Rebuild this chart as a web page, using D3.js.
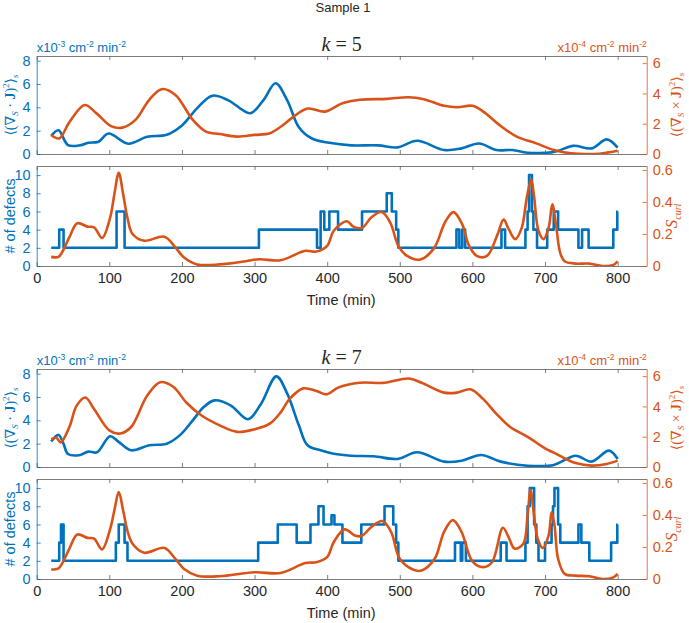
<!DOCTYPE html>
<html>
<head>
<meta charset="utf-8">
<script src="https://cdn.jsdelivr.net/npm/d3@7"></script>
<style>
  body { margin: 0; background: #fff; }
  text { font-family: "Liberation Sans Narrow", "Liberation Sans", Arial, sans-serif; }
  .math { font-family: "Liberation Serif", "DejaVu Serif", serif; }
</style>
</head>
<body>
<div id="chart"></div>
<script>
var timeTicks = [0, 100, 200, 300, 400, 500, 600, 700, 800];

// k = 5
var k5_div = [[20,1.55],[30,2.04],[43,0.77],[60,0.75],[71,0.96],[85,1.05],[99,1.76],[126,0.88],[152,1.47],[179,1.65],[200,2.45],[222,4.0],[242,5.0],[264,4.6],[294,3.5],[312,4.6],[329,6.07],[345,4.6],[361,2.3],[379,1.33],[403,0.96],[433,0.74],[470,0.74],[497,0.57],[524,1.13],[561,0.34],[585,0.48],[609,0.9],[633,0.34],[655,0.34],[676,0.11],[712,0.17],[739,0.7],[764,0.48],[785,1.25],[800,0.54]];
var k5_curl = [[20,1.25],[31,1.03],[45,2.1],[66,3.23],[82,2.7],[103,1.82],[118,1.74],[136,2.25],[155,3.58],[172,4.28],[191,3.9],[215,2.25],[233,1.48],[252,1.32],[276,1.15],[300,1.26],[321,1.37],[336,1.8],[352,2.4],[373,3.0],[397,2.8],[421,3.35],[445,3.58],[482,3.64],[512,3.75],[533,3.62],[561,3.18],[579,3.09],[600,3.18],[615,2.8],[639,1.85],[661,1.15],[688,0.7],[712,0.26],[736,0.04],[767,0.0],[785,0.09],[800,0.22]];
var k5_defects = [[20,2],[31,4],[37,2],[110,6],[121,2],[306,4],[386,2],[391,6],[396,4],[403,6],[415,4],[448,6],[482,8],[489,6],[495,4],[498,2],[578,4],[582,2],[586,4],[590,2],[640,4],[645,2],[673,4],[676,6],[678,10],[682,6],[684,4],[689,2],[703,4],[712,6],[718,4],[746,2],[751,4],[760,2],[794,4],[799.5,6],[800,6]];
var k5_scurl = [[20,0.057],[30,0.057],[36,0.095],[45,0.18],[56,0.267],[70,0.246],[79,0.242],[90,0.175],[101,0.3],[107,0.45],[113,0.583],[119,0.45],[125,0.3],[132,0.2],[148,0.158],[176,0.183],[191,0.116],[203,0.053],[221,0.01],[252,0.01],[288,0.03],[306,0.042],[336,0.036],[370,0.095],[385,0.09],[400,0.126],[409,0.22],[427,0.28],[436,0.246],[448,0.238],[461,0.305],[475,0.337],[487,0.27],[498,0.126],[510,0.063],[528,0.04],[547,0.11],[563,0.28],[574,0.337],[586,0.26],[595,0.13],[606,0.063],[620,0.063],[634,0.19],[643,0.29],[650,0.23],[659,0.168],[668,0.24],[675,0.43],[681,0.54],[685,0.43],[691,0.22],[698,0.168],[705,0.24],[710,0.385],[715,0.26],[721,0.08],[727,0.03],[742,0.015],[761,0.015],[779,0.0],[794,0.006],[800,0.03]];

// k = 7
var k7_div = [[20,2.18],[30,2.75],[37,1.98],[43,1.12],[60,1.03],[71,1.32],[83,1.26],[101,2.64],[112,2.2],[130,1.43],[155,1.86],[179,2.0],[197,2.71],[215,4.0],[230,5.14],[245,5.71],[267,5.29],[291,4.09],[309,5.43],[330,7.77],[345,6.29],[361,3.57],[373,1.86],[391,1.43],[409,1.14],[433,0.97],[464,0.92],[497,0.69],[524,1.26],[561,0.46],[585,0.54],[612,1.03],[639,0.46],[676,0.11],[712,0.17],[742,0.97],[764,0.46],[788,1.4],[800,0.69]];
var k7_curl = [[20,1.84],[27,1.93],[33,1.62],[45,2.64],[55,4.05],[67,4.59],[79,3.83],[100,2.42],[115,2.21],[130,2.64],[152,4.7],[170,5.6],[188,5.3],[206,4.26],[227,3.4],[252,2.75],[276,2.32],[300,2.49],[321,2.86],[336,3.61],[348,4.48],[367,5.19],[385,5.02],[400,4.8],[415,5.24],[445,5.56],[479,5.56],[512,5.84],[530,5.56],[561,4.91],[579,4.91],[597,5.13],[615,4.48],[633,3.51],[652,2.64],[676,1.99],[700,1.23],[712,0.95],[730,0.5],[742,0.26],[764,0.09],[785,0.2],[800,0.42]];
var k7_defects = [[20,2],[31,4],[33.5,6],[37,2],[109,4],[113,6],[121,4],[125,2],[305,4],[332,6],[358,4],[377,6],[388,8],[395,6],[406,7],[410,6],[421,4],[447,6],[479,8],[491,6],[495,4],[498,2],[576,4],[584,2],[586,4],[591,2],[639,4],[647,2],[673,4],[676,8],[679,10],[685,6],[688,4],[691,2],[700,4],[709,6],[711,8],[713,10],[718,6],[721,4],[746,6],[750,4],[761,2],[791,4],[799.5,6],[800,6]];
var k7_scurl = [[20,0.059],[30,0.067],[36,0.105],[45,0.19],[56,0.278],[70,0.257],[79,0.253],[90,0.185],[101,0.31],[107,0.43],[113,0.543],[119,0.43],[125,0.3],[132,0.22],[148,0.164],[176,0.194],[191,0.126],[203,0.063],[221,0.021],[252,0.017],[300,0.042],[336,0.038],[370,0.1],[385,0.105],[400,0.137],[409,0.23],[424,0.31],[439,0.27],[448,0.27],[461,0.326],[476,0.362],[488,0.295],[500,0.126],[518,0.059],[530,0.053],[548,0.126],[561,0.295],[573,0.368],[585,0.295],[600,0.11],[615,0.074],[627,0.105],[642,0.32],[650,0.26],[658,0.19],[670,0.22],[676,0.4],[680,0.558],[684,0.43],[690,0.25],[697,0.194],[705,0.274],[709,0.417],[713,0.337],[718,0.126],[727,0.032],[742,0.021],[761,0.017],[779,0.0],[794,0.01],[800,0.032]];

var divTicks = [0, 2, 4, 6, 8];
var curlTicks = [0, 2, 4, 6];
var defectTicks = [0, 2, 4, 6, 8, 10];
var scurlTicks = [0, 0.2, 0.4, 0.6];

// ---- drawing ----
var blue = "#0072BD", orange = "#D95319", grey = "#262626";
var width = 689, height = 623;
var left = 36.7, right = 646.7;

var svg = d3.select("#chart").append("svg")
    .attr("width", width)
    .attr("height", height);

var x = d3.scaleLinear().domain([0, 840]).range([left, right]);

svg.append("text")
  .attr("x", 343).attr("y", 12)
  .attr("text-anchor", "middle")
  .attr("fill", grey)
  .style("font-size", "13px")
  .text("Sample 1");

var clipId = 0;

// box with inward ticks on all four sides
function frame(y0, y1, yl, yr, lTicks, rTicks, rFmt, showX) {
  var g = svg.append("g");

  g.append("g")
    .attr("transform", "translate(0," + y0 + ")")
    .call(d3.axisTop(x).tickValues(timeTicks).tickSizeInner(-4).tickSizeOuter(0).tickFormat(""))
    .call(function(a) { a.selectAll("path,line").attr("stroke", "#5a5a5a").attr("stroke-width", 0.8); });

  var bx = g.append("g")
    .attr("transform", "translate(0," + y1 + ")")
    .call(d3.axisBottom(x).tickValues(timeTicks).tickSizeInner(-4).tickSizeOuter(0).tickPadding(7)
      .tickFormat(showX ? d3.format("d") : ""));
  bx.selectAll("path,line").attr("stroke", "#5a5a5a").attr("stroke-width", 0.8);
  bx.selectAll("text").attr("fill", grey).style("font-size", "14.5px").attr("font-family", null);

  var la = g.append("g")
    .attr("transform", "translate(" + left + ",0)")
    .call(d3.axisLeft(yl).tickValues(lTicks).tickSizeInner(-4).tickSizeOuter(0).tickPadding(6));
  la.selectAll("path,line").attr("stroke", blue).attr("stroke-width", 0.8);
  la.selectAll("text").attr("fill", blue).style("font-size", "14.5px").attr("font-family", null);

  var ra = g.append("g")
    .attr("transform", "translate(" + right + ",0)")
    .call(d3.axisRight(yr).tickValues(rTicks).tickSizeInner(-4).tickSizeOuter(0).tickPadding(6).tickFormat(rFmt));
  ra.selectAll("path,line").attr("stroke", orange).attr("stroke-width", 0.8);
  ra.selectAll("text").attr("fill", orange).style("font-size", "14.5px").attr("font-family", null);

  clipId += 1;
  svg.append("clipPath").attr("id", "clip" + clipId)
    .append("rect").attr("x", left).attr("y", y0).attr("width", right - left).attr("height", y1 - y0);
  return svg.append("g").attr("clip-path", "url(#clip" + clipId + ")");
}

function plotLine(g, data, y, color, curve) {
  g.append("path")
    .datum(data)
    .attr("fill", "none")
    .attr("stroke", color)
    .attr("stroke-width", 2.6)
    .attr("stroke-linejoin", "round")
    .attr("d", d3.line().x(function(d) { return x(d[0]); }).y(function(d) { return y(d[1]); }).curve(curve));
}

// <(grad_S op J)^2>_s label, rotated
function fluxLabel(px, py, op, color) {
  var t = svg.append("text").attr("class", "math")
    .attr("transform", "translate(" + px + "," + py + ") rotate(-90)")
    .attr("text-anchor", "middle")
    .attr("fill", color)
    .style("font-size", "14px");
  t.append("tspan").text("\u27E8(\u2207");
  t.append("tspan").attr("dy", 3).style("font-size", "9px").style("font-style", "italic").text("S");
  t.append("tspan").attr("dy", -3).text(" " + op + " ");
  t.append("tspan").style("font-weight", "bold").text("J");
  t.append("tspan").text(")");
  t.append("tspan").attr("dy", -6).style("font-size", "9px").text("2");
  t.append("tspan").attr("dy", 6).text("\u27E9");
  t.append("tspan").attr("dy", 3).style("font-size", "9px").style("font-style", "italic").text("s");
}

function unitLabel(px, py, exp, color, anchor) {
  var t = svg.append("text")
    .attr("x", px).attr("y", py)
    .attr("text-anchor", anchor)
    .attr("fill", color)
    .style("font-size", "13px");
  t.append("tspan").text("x10");
  t.append("tspan").attr("dy", -5).style("font-size", "8.5px").text(exp);
  t.append("tspan").attr("dy", 5).text(" cm");
  t.append("tspan").attr("dy", -5).style("font-size", "8.5px").text("-2");
  t.append("tspan").attr("dy", 5).text(" min");
  t.append("tspan").attr("dy", -5).style("font-size", "8.5px").text("-2");
}

function drawPair(top, k, div, curl, defects, scurl) {
  var aTop = top, aBot = top + 98, bTop = top + 110, bBot = top + 210;

  var yDiv = d3.scaleLinear().domain([0, 8.4]).range([aBot, aTop]);
  var yCurl = d3.scaleLinear().domain([0, 6.47]).range([aBot, aTop]);
  var yDef = d3.scaleLinear().domain([0, 11]).range([bBot, bTop]);
  var ySc = d3.scaleLinear().domain([0, 0.625]).range([bBot, bTop]);

  var smooth = d3.curveCatmullRom.alpha(0.5);

  // upper panel
  var gA = frame(aTop, aBot, yDiv, yCurl, divTicks, curlTicks, d3.format("d"), false);
  plotLine(gA, div, yDiv, blue, smooth);
  plotLine(gA, curl, yCurl, orange, smooth);

  // lower panel
  var gB = frame(bTop, bBot, yDef, ySc, defectTicks, scurlTicks,
    function(d) { return d === 0 ? "0" : d3.format(".1f")(d); }, true);
  plotLine(gB, defects, yDef, blue, d3.curveStepAfter);
  plotLine(gB, scurl, ySc, orange, smooth);

  // title
  var t = svg.append("text").attr("class", "math")
    .attr("x", (left + right) / 2).attr("y", top - 5)
    .attr("text-anchor", "middle")
    .attr("fill", grey)
    .style("font-size", "20px");
  t.append("tspan").style("font-style", "italic").text("k");
  t.append("tspan").text(" = " + k);

  unitLabel(left, top - 4, "-3", blue, "start");
  unitLabel(right, top - 4, "-4", orange, "end");

  fluxLabel(15, (aTop + aBot) / 2, "\u00B7", blue);
  fluxLabel(681, (aTop + aBot) / 2, "\u00D7", orange);

  svg.append("text")
    .attr("transform", "translate(15," + (bTop + bBot) / 2 + ") rotate(-90)")
    .attr("text-anchor", "middle")
    .attr("fill", blue)
    .style("font-size", "14.5px")
    .text("# of defects");

  var s = svg.append("text").attr("class", "math")
    .attr("transform", "translate(677," + (bTop + bBot) / 2 + ") rotate(-90)")
    .attr("text-anchor", "middle")
    .attr("fill", orange)
    .style("font-size", "17px");
  s.append("tspan").style("font-style", "italic").text("S");
  s.append("tspan").attr("dy", 4).style("font-size", "10px").style("font-style", "italic").text("curl");

  svg.append("text")
    .attr("x", (left + x(800)) / 2 + 14).attr("y", bBot + 39)
    .attr("text-anchor", "middle")
    .attr("fill", grey)
    .style("font-size", "14.5px")
    .text("Time (min)");
}

drawPair(56, 5, k5_div, k5_curl, k5_defects, k5_scurl);
drawPair(369, 7, k7_div, k7_curl, k7_defects, k7_scurl);
</script>
</body>
</html>
